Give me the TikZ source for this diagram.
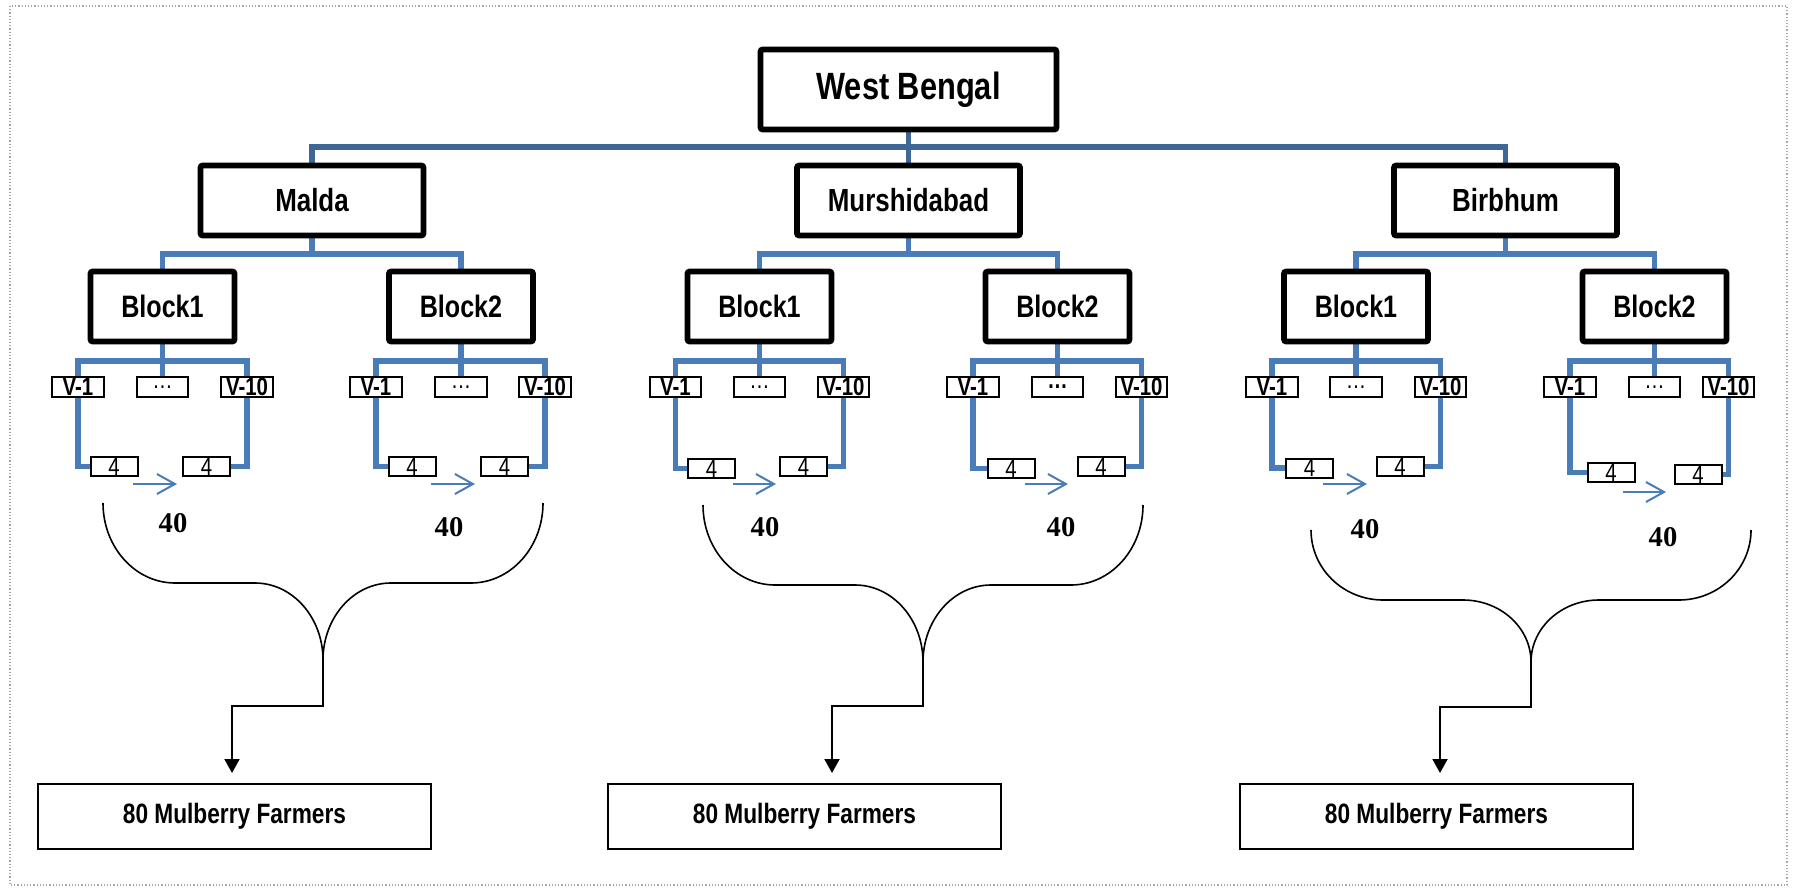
\documentclass[tikz,border=0pt]{standalone}
\usepackage{fontspec}
\setmainfont{Liberation Sans}
\newfontfamily\narrowsans[FakeStretch=0.81]{Liberation Sans}
\newfontfamily\timesfont{Liberation Serif}
\usetikzlibrary{arrows.meta, backgrounds}

\definecolor{topblue}{RGB}{62,102,150}
\definecolor{treeblue}{RGB}{74,124,184}

\tikzset{
  statebox/.style={draw, fill=white, line width=2.8pt, rounded corners=1pt, inner sep=0pt,
    minimum width=148pt, minimum height=40pt, font=\narrowsans\bfseries\fontsize{19}{22}\selectfont},
  distbox/.style={statebox, minimum width=111.5pt, minimum height=35pt,
    font=\narrowsans\bfseries\fontsize{16}{19}\selectfont},
  blockbox/.style={statebox, minimum width=72pt, minimum height=35pt,
    font=\narrowsans\bfseries\fontsize{15.5}{18}\selectfont},
  villbox/.style={draw, fill=white, line width=0.8pt, inner sep=0pt, minimum width=25.75pt,
    minimum height=10.25pt, font=\narrowsans\bfseries\fontsize{12.6}{12}\selectfont},
  dotbox/.style={villbox, font=\narrowsans\fontsize{12.6}{12}\selectfont},
  countbox/.style={draw, fill=white, line width=1pt, inner sep=0pt, minimum width=23.5pt,
    minimum height=9.5pt, font=\narrowsans\fontsize{12.6}{12}\selectfont},
  farmbox/.style={draw, fill=white, line width=1pt, inner sep=0pt, minimum width=196.5pt,
    minimum height=32.5pt, font=\narrowsans\bfseries\fontsize{14}{16}\selectfont},
  numlabel/.style={inner sep=0pt, font=\timesfont\bfseries\fontsize{14.3}{16}\selectfont},
  topline/.style={draw=topblue, line width=2.8pt},
  treeline/.style={draw=treeblue, line width=2.8pt},
  flowarrow/.style={draw=treeblue, line width=1pt, -{Straight Barb[length=9pt, width=10pt]}},
  bracecurve/.style={draw=black, line width=0.8pt},
  farmarrow/.style={draw=black, line width=1pt, shorten >=5pt, -{Triangle[length=7pt, width=7.5pt]}},
  outerframe/.style={draw=gray!70, densely dotted, line width=0.6pt}
}

\begin{document}
\begin{tikzpicture}[x=0.5pt, y=-0.5pt]
  \useasboundingbox (0,0) rectangle (1798,888);
  \draw[outerframe] (10,6) rectangle (1787,885);

  % state and districts
  \node[statebox] (wb) at (908.5,89.5) {West Bengal};
  \node[distbox] (malda) at (312,200.5) {Malda};
  \node[distbox] (murs) at (908.5,200.5) {Murshidabad};
  \node[distbox] (birb) at (1505.5,200.5) {Birbhum};

  % blocks
  \node[blockbox] (mb1) at (162.5,306.5) {Block1};
  \node[blockbox] (mb2) at (461,306.5) {Block2};
  \node[blockbox] (ub1) at (759.5,306.5) {Block1};
  \node[blockbox] (ub2) at (1057.5,306.5) {Block2};
  \node[blockbox] (bb1) at (1356,306.5) {Block1};
  \node[blockbox] (bb2) at (1654.5,306.5) {Block2};

  % villages
  \node[villbox] (m1a) at (78,387) {V-1};
  \node[dotbox] (m1b) at (162.5,387) {\ldots};
  \node[villbox] (m1c) at (247,387) {V-10};
  \node[villbox] (m2a) at (376,387) {V-1};
  \node[dotbox] (m2b) at (461,387) {\ldots};
  \node[villbox] (m2c) at (545,387) {V-10};
  \node[villbox] (u1a) at (675.5,387) {V-1};
  \node[dotbox] (u1b) at (759.5,387) {\ldots};
  \node[villbox] (u1c) at (843.5,387) {V-10};
  \node[villbox] (u2a) at (973,387) {V-1};
  \node[villbox] (u2b) at (1057.5,387) {\ldots};
  \node[villbox] (u2c) at (1141.5,387) {V-10};
  \node[villbox] (b1a) at (1272,387) {V-1};
  \node[dotbox] (b1b) at (1356,387) {\ldots};
  \node[villbox] (b1c) at (1440.5,387) {V-10};
  \node[villbox] (b2a) at (1570,387) {V-1};
  \node[dotbox] (b2b) at (1654.5,387) {\ldots};
  \node[villbox] (b2c) at (1728.5,387) {V-10};

  % farmers per village
  \node[countbox] (m1x) at (114,466.5) {4};
  \node[countbox] (m1y) at (206.5,466.5) {4};
  \node[countbox] (m2x) at (412,466.5) {4};
  \node[countbox] (m2y) at (504.5,466.5) {4};
  \node[countbox] (u1x) at (711.5,468.5) {4};
  \node[countbox] (u1y) at (803.5,466.5) {4};
  \node[countbox] (u2x) at (1011,468.5) {4};
  \node[countbox] (u2y) at (1101,466.5) {4};
  \node[countbox] (b1x) at (1309.5,468) {4};
  \node[countbox] (b1y) at (1400,466.5) {4};
  \node[countbox] (b2x) at (1611,472.5) {4};
  \node[countbox] (b2y) at (1698,474.5) {4};

  \node[numlabel] (m1n) at (173,523) {40};
  \node[numlabel] (m2n) at (449,527) {40};
  \node[numlabel] (u1n) at (765,527) {40};
  \node[numlabel] (u2n) at (1061,527) {40};
  \node[numlabel] (b1n) at (1365,529) {40};
  \node[numlabel] (b2n) at (1663,537) {40};

  % totals
  \node[farmbox] (farmM) at (234.5,816.5) {80 Mulberry Farmers};
  \node[farmbox] (farmU) at (804.5,816.5) {80 Mulberry Farmers};
  \node[farmbox] (farmB) at (1436.5,816.5) {80 Mulberry Farmers};

  \begin{scope}[on background layer]
    \draw[topline] (wb.south) -- (murs.north);
    \draw[topline] (malda.north) -- ++(0,-16) -| (birb.north);

    \draw[treeline] (mb1.north) -- ++(0,-15) coordinate (mj) -| (mb2.north);
    \draw[treeline] (malda.south) -- (malda.south |- mj);
    \draw[treeline] (ub1.north) -- ++(0,-15) coordinate (uj) -| (ub2.north);
    \draw[treeline] (murs.south) -- (murs.south |- uj);
    \draw[treeline] (bb1.north) -- ++(0,-15) coordinate (bj) -| (bb2.north);
    \draw[treeline] (birb.south) -- (birb.south |- bj);

    \draw[treeline] (m1a.north) -- ++(0,-15) -| (m1c.north);
    \draw[treeline] (mb1.south) -- (m1b.north);
    \draw[treeline] (m1a.south) |- (m1x.west);
    \draw[treeline] (m1c.south) |- (m1y.east);
    \draw[treeline] (m2a.north) -- ++(0,-15) -| (m2c.north);
    \draw[treeline] (mb2.south) -- (m2b.north);
    \draw[treeline] (m2a.south) |- (m2x.west);
    \draw[treeline] (m2c.south) |- (m2y.east);
    \draw[treeline] (u1a.north) -- ++(0,-15) -| (u1c.north);
    \draw[treeline] (ub1.south) -- (u1b.north);
    \draw[treeline] (u1a.south) |- (u1x.west);
    \draw[treeline] (u1c.south) |- (u1y.east);
    \draw[treeline] (u2a.north) -- ++(0,-15) -| (u2c.north);
    \draw[treeline] (ub2.south) -- (u2b.north);
    \draw[treeline] (u2a.south) |- (u2x.west);
    \draw[treeline] (u2c.south) |- (u2y.east);
    \draw[treeline] (b1a.north) -- ++(0,-15) -| (b1c.north);
    \draw[treeline] (bb1.south) -- (b1b.north);
    \draw[treeline] (b1a.south) |- (b1x.west);
    \draw[treeline] (b1c.south) |- (b1y.east);
    \draw[treeline] (b2a.north) -- ++(0,-15) -| (b2c.north);
    \draw[treeline] (bb2.south) -- (b2b.north);
    \draw[treeline] (b2a.south) |- (b2x.west);
    \draw[treeline] (b2c.south) |- (b2y.east);
  \end{scope}

  % small flow arrows
  \coordinate (m1p) at (133,484);  \coordinate (m1q) at (177,484);
  \coordinate (m2p) at (431,484);  \coordinate (m2q) at (475,484);
  \coordinate (u1p) at (733,484);  \coordinate (u1q) at (776,484);
  \coordinate (u2p) at (1025,484); \coordinate (u2q) at (1068,484);
  \coordinate (b1p) at (1323,484); \coordinate (b1q) at (1367,484);
  \coordinate (b2p) at (1623,492); \coordinate (b2q) at (1666,492);
  \draw[flowarrow] (m1p) -- (m1q);
  \draw[flowarrow] (m2p) -- (m2q);
  \draw[flowarrow] (u1p) -- (u1q);
  \draw[flowarrow] (u2p) -- (u2q);
  \draw[flowarrow] (b1p) -- (b1q);
  \draw[flowarrow] (b2p) -- (b2q);

  % braces
  \draw[bracecurve] (103,503) arc[start angle=180, end angle=90, x radius=72, y radius=80]
    -- ++(80,0) arc[start angle=270, end angle=360, x radius=68, y radius=77] coordinate (tipM)
    arc[start angle=180, end angle=270, x radius=68, y radius=77]
    -- ++(80,0) arc[start angle=90, end angle=0, x radius=72, y radius=80];
  \draw[bracecurve] (703,505) arc[start angle=180, end angle=90, x radius=72, y radius=80]
    -- ++(80,0) arc[start angle=270, end angle=360, x radius=68, y radius=77] coordinate (tipU)
    arc[start angle=180, end angle=270, x radius=68, y radius=77]
    -- ++(80,0) arc[start angle=90, end angle=0, x radius=72, y radius=80];
  \draw[bracecurve] (1311,530) arc[start angle=180, end angle=90, x radius=72, y radius=70]
    -- ++(80,0) arc[start angle=270, end angle=360, x radius=68, y radius=62] coordinate (tipB)
    arc[start angle=180, end angle=270, x radius=68, y radius=62]
    -- ++(80,0) arc[start angle=90, end angle=0, x radius=72, y radius=70];

  \coordinate (bendM) at (232,706);
  \coordinate (bendU) at (832,706);
  \coordinate (bendB) at (1440,707);
  \draw[farmarrow] (tipM) |- (bendM) -- (bendM |- farmM.north);
  \draw[farmarrow] (tipU) |- (bendU) -- (bendU |- farmU.north);
  \draw[farmarrow] (tipB) |- (bendB) -- (bendB |- farmB.north);
\end{tikzpicture}
\end{document}
